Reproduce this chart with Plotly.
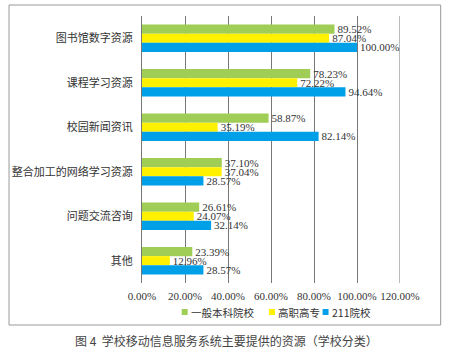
import plotly.graph_objects as go

categories = ["图书馆数字资源", "课程学习资源", "校园新闻资讯", "整合加工的网络学习资源", "问题交流咨询", "其他"]
series_names = ["一般本科院校", "高职高专", "211院校"]
general = [89.52, 78.23, 58.87, 37.10, 26.61, 23.39]
vocational = [87.04, 72.22, 35.19, 37.04, 24.07, 12.96]
u211 = [100.00, 94.64, 82.14, 28.57, 32.14, 28.57]
tick_vals = [0, 20, 40, 60, 80, 100, 120]
tick_text = ["0.00%", "20.00%", "40.00%", "60.00%", "80.00%", "100.00%", "120.00%"]
caption = "图 4  学校移动信息服务系统主要提供的资源（学校分类）"

colors = ["#A0CD55", "#FFF100", "#00A0E9"]
serif = "Liberation Serif, Times New Roman, serif"
cjk = "Noto Sans CJK SC"

L, R, T, B = 140, 400, 16, 283
W, H = R - L, B - T
def px(x):
    return (x - L) / W
def py(y):
    return (B - y) / H

fig = go.Figure()
for name, vals, c in zip(series_names, [general, vocational, u211], colors):
    fig.add_trace(go.Bar(
        y=categories, x=vals, name=name, orientation="h",
        marker=dict(color=c, line=dict(width=0)),
        text=[f"{v:.2f}%" for v in vals], textposition="outside",
        textfont=dict(family=serif, size=11, color="#333"),
        constraintext="none", cliponaxis=False, showlegend=False,
    ))

fig.update_layout(
    width=450, height=350,
    margin=dict(l=L, r=450 - R, t=T, b=350 - B),
    paper_bgcolor="white", plot_bgcolor="white",
    barmode="group", bargap=0.38, bargroupgap=0,
    showlegend=False,
    font=dict(family=cjk, color="#333"),
)
fig.update_xaxes(range=[0, 120], tickvals=tick_vals, ticktext=tick_text,
                 showgrid=True, gridcolor="#777", gridwidth=1, zeroline=False,
                 showline=False, ticks="", ticklabelstandoff=5,
                 tickfont=dict(family=serif, size=11, color="#333"))
fig.update_yaxes(categoryorder="array", categoryarray=categories, autorange="reversed",
                 showline=True, linecolor="#777", linewidth=1, showgrid=False,
                 ticks="", ticklabelstandoff=6,
                 tickfont=dict(family=cjk, size=11, color="#333"))

# right edge line at 120%
fig.add_shape(type="line", xref="x", yref="paper", x0=120, x1=120, y0=0, y1=1,
              line=dict(color="#777", width=1))
# outer frame
fig.add_shape(type="rect", xref="paper", yref="paper",
              x0=px(6), x1=px(441), y0=py(325), y1=py(5),
              line=dict(color="#999", width=1), layer="below")

# legend (manual, small squares like the reference)
legend_sq_x = [180, 268, 322]
for name, c, sx in zip(series_names, colors, legend_sq_x):
    fig.add_shape(type="rect", xref="paper", yref="paper",
                  x0=px(sx), x1=px(sx + 6), y0=py(315), y1=py(309),
                  fillcolor=c, line=dict(width=0))
    fig.add_annotation(text=name, xref="paper", yref="paper",
                       x=px(sx + 7), y=py(312), showarrow=False,
                       xanchor="left", yanchor="middle",
                       font=dict(family=cjk, size=10.5, color="#333"))

fig.add_annotation(text=caption, xref="paper", yref="paper",
                   x=px(225), y=py(340), showarrow=False,
                   xanchor="center", yanchor="middle",
                   font=dict(family=cjk, size=12, color="#444"))

fig.write_html("out.html")
